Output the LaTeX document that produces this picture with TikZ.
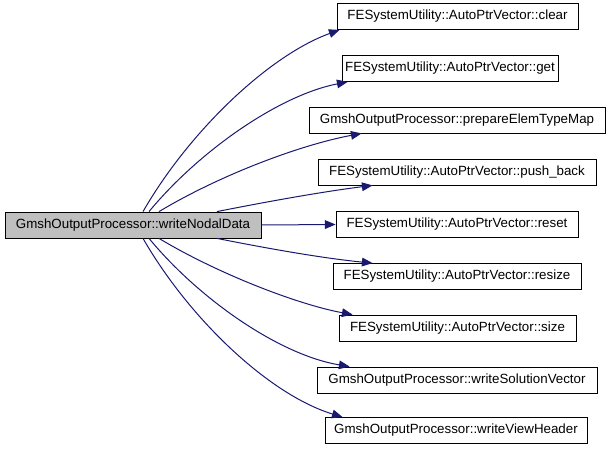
\documentclass[tikz,border=0pt]{standalone}
\usepackage{fontspec}
\setmainfont{Liberation Sans}
\usetikzlibrary{arrows.meta}
\definecolor{edgecol}{HTML}{191970}
\definecolor{mainfill}{HTML}{BFBFBF}
\tikzset{
  fnbox/.style={draw=black, line width=0.6pt, fill=white, rectangle, inner sep=0pt,
    minimum height=19.5pt, font=\fontsize{10}{12}\selectfont, text=black},
  mainbox/.style={fnbox, fill=mainfill},
  edge/.style={draw=edgecol, line width=0.75pt, -{Triangle[length=8pt,width=6.5pt]}}
}
\begin{document}
\begin{tikzpicture}[x=0.75pt, y=-0.75pt]
\useasboundingbox (0,0) rectangle (611,453);
\node[mainbox, minimum width=192pt] (main) at (133,225) {GmshOutputProcessor::writeNodalData};
\node[fnbox, minimum width=180.75pt] (clear) at (457.5,16.5) {FESystemUtility::AutoPtrVector::clear};
\node[fnbox, minimum width=162pt] (get) at (450,68.5) {FESystemUtility::AutoPtrVector::get};
\node[fnbox, minimum width=222pt] (prep) at (457,120) {GmshOutputProcessor::prepareElemTypeMap};
\node[fnbox, minimum width=208.5pt] (push) at (457,172) {FESystemUtility::AutoPtrVector::push\_back};
\node[fnbox, minimum width=181.5pt] (reset) at (457,224.5) {FESystemUtility::AutoPtrVector::reset};
\node[fnbox, minimum width=186pt] (resize) at (457,276.5) {FESystemUtility::AutoPtrVector::resize};
\node[fnbox, minimum width=177.75pt] (size) at (457.5,328) {FESystemUtility::AutoPtrVector::size};
\node[fnbox, minimum width=210pt] (wsol) at (457,380) {GmshOutputProcessor::writeSolutionVector};
\node[fnbox, minimum width=196.5pt] (wview) at (456,430.5) {GmshOutputProcessor::writeViewHeader};

\draw[edge] ([xshift=7.5pt]main.north) .. controls (190,130) and (270,55) .. ([xshift=2.25pt]clear.south west);
\draw[edge] ([xshift=12pt]main.north) .. controls (200,150) and (280,95) .. ([xshift=4.5pt]get.south west);
\draw[edge] ([xshift=19.5pt]main.north) .. controls (220,175) and (300,145) .. ([xshift=39.75pt]prep.south west);
\draw[edge] ([xshift=63pt]main.north) .. controls (260,203) and (320,192) .. ([xshift=41.25pt]push.south west);
\draw[edge] (main.east) -- (reset.west);
\draw[edge] ([xshift=63pt]main.south) .. controls (260,247) and (320,258) .. ([xshift=30pt]resize.north west);
\draw[edge] ([xshift=19.5pt]main.south) .. controls (220,275) and (300,305) .. ([xshift=10.5pt]size.north west);
\draw[edge] ([xshift=12pt]main.south) .. controls (200,300) and (280,355) .. ([xshift=24.75pt]wsol.north west);
\draw[edge] ([xshift=7.5pt]main.south) .. controls (190,320) and (270,395) .. ([xshift=13.5pt]wview.north west);
\end{tikzpicture}
\end{document}
